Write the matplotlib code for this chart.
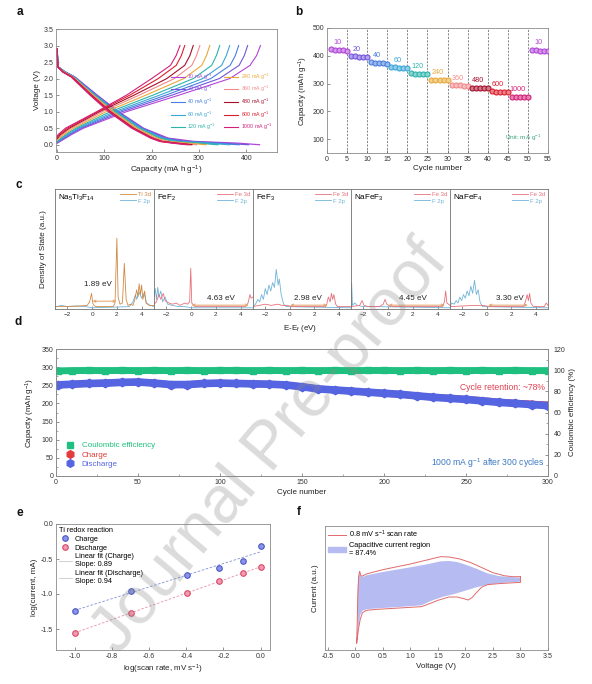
import numpy as np
import matplotlib
matplotlib.use('Agg')
import matplotlib.pyplot as plt
from matplotlib.lines import Line2D
from matplotlib.patches import Patch
from matplotlib.ticker import MultipleLocator

plt.rcParams.update({
    'font.family': ['Liberation Sans', 'DejaVu Sans'],
    'mathtext.fontset': 'custom',
    'mathtext.rm': 'Liberation Sans',
    'mathtext.it': 'Liberation Sans:italic',
    'mathtext.bf': 'Liberation Sans:bold',
    'mathtext.default': 'regular',
    'axes.linewidth': 0.6,
    'axes.edgecolor': '#8a8a8a',
    'xtick.direction': 'in', 'ytick.direction': 'in',
    'xtick.major.size': 2.0, 'ytick.major.size': 2.0,
    'xtick.minor.size': 1.2, 'ytick.minor.size': 1.2,
    'xtick.major.width': 0.5, 'ytick.major.width': 0.5,
    'xtick.minor.width': 0.4, 'ytick.minor.width': 0.4,
    'xtick.color': '#666666', 'ytick.color': '#666666',
    'xtick.labelcolor': '#333333', 'ytick.labelcolor': '#333333',
    'xtick.labelsize': 5, 'ytick.labelsize': 5,
    'axes.labelsize': 5.8, 'axes.labelcolor': '#222222',
    'xtick.major.pad': 2, 'ytick.major.pad': 2,
    'axes.labelpad': 2,
})

# ---------------- data: panel a ----------------
rates = [10, 20, 40, 60, 120, 240, 360, 480, 600, 1000]
rate_colors = ['#b145d8', '#7456dc', '#4a7ee0', '#3ba6d6', '#2cb3ab',
               '#e9a93a', '#f28b8b', '#a8102c', '#dc1f2c', '#d4207a']
charge_v0 = [0.04, 0.06, 0.07, 0.09, 0.11, 0.13, 0.16, 0.18, 0.21, 0.24]
charge_volt = [0.3, 0.5, 1.0, 1.5, 2.0, 2.4, 2.7, 3.0]
charge_cap = [
    [30, 56, 147, 258, 365, 408, 422, 430],
    [27, 52, 138, 243, 343, 385, 396, 403],
    [24, 48, 130, 230, 325, 366, 377, 384],
    [21, 44, 122, 217, 308, 348, 358, 365],
    [18, 40, 113, 203, 288, 327, 337, 344],
    [14, 35, 104, 188, 268, 306, 316, 323],
    [10, 30, 96, 174, 248, 285, 295, 302],
    [7, 26, 90, 163, 232, 270, 281, 288],
    [4, 22, 86, 154, 214, 252, 263, 270],
    [2, 18, 84, 147, 200, 240, 252, 260],
]
discharge_volt = [2.9, 2.35, 2.2, 2.05, 1.5, 1.0, 0.5, 0.2, 0.1, 0.05, 0.0]
discharge_cap = [
    [0, 3, 18, 38, 85, 130, 183, 235, 290, 380, 428],
    [0, 3, 18, 37, 84, 129, 181, 230, 275, 350, 405],
    [0, 3, 17, 36, 82, 127, 179, 226, 265, 330, 385],
    [0, 3, 17, 36, 81, 125, 177, 222, 255, 315, 365],
    [0, 3, 16, 35, 79, 122, 173, 217, 245, 295, 340],
    [0, 2, 15, 34, 77, 119, 169, 211, 235, 275, 315],
    [0, 2, 14, 33, 75, 116, 165, 206, 228, 262, 295],
    [0, 2, 13, 32, 73, 113, 162, 202, 222, 252, 285],
    [0, 2, 13, 31, 72, 111, 160, 200, 220, 248, 280],
    [0, 2, 12, 30, 70, 109, 158, 198, 217, 243, 275],
]

# ---------------- data: panel b ----------------
b_labels = ['10', '20', '40', '60', '120', '240', '360', '480', '600', '1000', '10']
b_colors = ['#b145d8', '#7456dc', '#4a7ee0', '#3ba6d6', '#2cb3ab',
            '#e9a93a', '#f28b8b', '#a8102c', '#dc1f2c', '#d4207a', '#b145d8']
b_caps = [
    [423, 422, 421, 420, 419],
    [399, 398, 397, 396, 395],
    [376, 375, 374, 373, 372],
    [359, 358, 357, 356, 355],
    [337, 336, 335, 334, 333],
    [313, 313, 312, 312, 312],
    [296, 295, 294, 293, 292],
    [285, 284, 284, 283, 283],
    [272, 271, 271, 270, 270],
    [252, 251, 251, 251, 250],
    [421, 420, 419, 419, 418],
]
b_label_y = [447, 423, 400, 383, 362, 338, 320, 311, 296, 280, 447]

# ---------------- data: panel c (DOS) ----------------
c_titles = ['Na$_5$Ti$_3$F$_{14}$', 'FeF$_2$', 'FeF$_3$', 'NaFeF$_3$', 'NaFeF$_4$']
c_metal = ['Ti 3d', 'Fe 3d', 'Fe 3d', 'Fe 3d', 'Fe 3d']
c_gaps = ['1.89 eV', '4.63 eV', '2.98 eV', '4.45 eV', '3.30 eV']
c_gap_from = [0.05, 0.05, 0.05, 0.05, 0.15]
c_gap_to = [1.95, 4.65, 3.05, 4.55, 3.35]
c_gap_y = [0.065, 0.032, 0.032, 0.032, 0.032]
c_text_x = [0.45, 2.4, 1.5, 2.0, 1.9]
c_text_y = [0.2, 0.085, 0.085, 0.085, 0.085]

na5ti3f14_metal = [(-3, 0.02), (-2.5, 0.02), (-1.0, 0.025), (-0.4, 0.03), (-0.2, 0.06), (-0.05, 0.13),
                   (0.05, 0.05), (0.15, 0.03), (0.3, 0.02), (1.7, 0.02), (1.85, 0.05), (2.0, 0.59),
                   (2.1, 0.1), (2.25, 0.04), (2.45, 0.05), (2.6, 0.38), (2.75, 0.08), (2.9, 0.03),
                   (3.1, 0.04), (3.3, 0.03), (3.45, 0.08), (3.6, 0.16), (3.7, 0.1), (3.8, 0.21),
                   (3.9, 0.12), (4.0, 0.2), (4.1, 0.08), (4.25, 0.15), (4.35, 0.05), (4.6, 0.03), (5, 0.03)]
na5ti3f14_f2p = [(-3, 0.015), (-2.5, 0.03), (-2.0, 0.02), (-1.2, 0.025), (-0.5, 0.02), (0, 0.01),
                 (3.0, 0.02), (3.3, 0.06), (3.5, 0.12), (3.6, 0.08), (3.8, 0.14), (4.0, 0.09),
                 (4.2, 0.13), (4.4, 0.05), (4.7, 0.03), (5, 0.02)]
fef2_metal = [(-3, 0.04), (-2.8, 0.06), (-2.6, 0.12), (-2.45, 0.08), (-2.25, 0.13), (-2.1, 0.07),
              (-1.8, 0.05), (-1.5, 0.04), (-1.2, 0.05), (-0.9, 0.03), (-0.5, 0.05), (-0.3, 0.04),
              (-0.12, 0.06), (-0.03, 0.34), (0.05, 0.05), (0.3, 0.02), (4.4, 0.02), (4.6, 0.05),
              (4.75, 0.12), (4.85, 0.09), (5, 0.1)]
fef2_f2p = [(-3, 0.1), (-2.9, 0.17), (-2.8, 0.08), (-2.7, 0.18), (-2.6, 0.1), (-2.45, 0.15),
            (-2.3, 0.06), (-2.1, 0.1), (-1.9, 0.04), (-1.5, 0.03), (-1.0, 0.02), (-0.5, 0.02),
            (0, 0.01), (5, 0.01)]
fef3_metal = [(-3, 0.02), (-2.5, 0.03), (-2, 0.04), (-1.5, 0.03), (-1, 0.04), (-0.6, 0.03),
              (-0.2, 0.03), (0.2, 0.02), (2.9, 0.02), (3.0, 0.03), (3.15, 0.1), (3.3, 0.06),
              (3.4, 0.13), (3.5, 0.08), (3.6, 0.12), (3.75, 0.04), (3.9, 0.02), (5, 0.02)]
fef3_f2p = [(-3, 0.02), (-2.8, 0.04), (-2.6, 0.08), (-2.45, 0.06), (-2.3, 0.12), (-2.15, 0.08),
            (-2.0, 0.17), (-1.85, 0.12), (-1.7, 0.2), (-1.55, 0.15), (-1.4, 0.22), (-1.25, 0.18),
            (-1.1, 0.33), (-0.95, 0.2), (-0.85, 0.25), (-0.7, 0.12), (-0.5, 0.04), (-0.3, 0.02),
            (5, 0.01)]
nafef3_metal = [(-3, 0.02), (-2.3, 0.03), (-2.1, 0.07), (-1.95, 0.03), (-1.6, 0.02), (-0.7, 0.02),
                (-0.4, 0.04), (-0.25, 0.08), (-0.1, 0.04), (0.2, 0.02), (4.4, 0.02), (4.55, 0.06),
                (4.65, 0.15), (4.75, 0.05), (5, 0.03)]
nafef3_f2p = [(-3, 0.02), (-2.95, 0.22), (-2.88, 0.03), (-2.7, 0.05), (-2.5, 0.03), (-2.0, 0.02),
              (-1.0, 0.02), (5, 0.01)]
nafef4_metal = [(-3, 0.02), (-2, 0.025), (-1, 0.03), (-0.3, 0.03), (0.2, 0.02), (3.0, 0.02),
                (3.15, 0.06), (3.3, 0.12), (3.4, 0.07), (3.5, 0.13), (3.6, 0.05), (3.8, 0.02),
                (4.7, 0.02), (4.85, 0.05), (5, 0.03)]
nafef4_f2p = [(-3, 0.02), (-2.85, 0.05), (-2.65, 0.04), (-2.5, 0.07), (-2.35, 0.05), (-2.2, 0.1),
              (-2.05, 0.07), (-1.9, 0.12), (-1.75, 0.09), (-1.6, 0.15), (-1.45, 0.11), (-1.3, 0.19),
              (-1.15, 0.13), (-1.0, 0.24), (-0.85, 0.12), (-0.7, 0.16), (-0.55, 0.06), (-0.35, 0.02),
              (5, 0.01)]
c_metal_dos = [na5ti3f14_metal, fef2_metal, fef3_metal, nafef3_metal, nafef4_metal]
c_f2p_dos = [na5ti3f14_f2p, fef2_f2p, fef3_f2p, nafef3_f2p, nafef4_f2p]

# ---------------- data: panel d ----------------
d_cycles = [1, 10, 20, 30, 40, 50, 60, 70, 80, 90, 100, 110, 120, 130, 140, 150,
            160, 170, 180, 190, 200, 210, 220, 230, 240, 250, 260, 270, 280, 290, 300]
d_discharge = [251, 253, 255, 256, 258, 259, 256, 252, 252, 255, 256, 255, 254, 253, 251, 246,
               240, 237, 234, 231, 228, 225, 221, 217, 214, 211, 207, 203, 200, 197, 194]
d_charge = [251, 253, 255, 256, 258, 259, 256, 252, 252, 255, 256, 255, 254, 253, 251, 246,
            240, 237, 234, 231, 228, 225, 221, 217, 214.5, 211.5, 208, 204, 201, 198.5, 196]
d_ce = [99.3, 99.6, 99.7, 99.6, 99.7, 99.6, 99.7, 99.6, 99.7, 99.6, 99.7, 99.7, 99.6, 99.7, 99.6, 99.7,
        99.6, 99.7, 99.6, 99.7, 99.7, 99.6, 99.7, 99.6, 99.7, 99.6, 99.7, 99.6, 99.7, 99.6, 99.6]

# ---------------- data: panel e ----------------
e_scan_rate = [0.1, 0.2, 0.4, 0.6, 0.8, 1.0]
e_charge = [-1.24, -0.95, -0.735, -0.63, -0.53, -0.32]
e_discharge = [-1.555, -1.27, -0.99, -0.82, -0.70, -0.61]

# ---------------- data: panel f ----------------
f_cv_v = [3.0, 2.85, 2.7, 2.5, 2.3, 2.1, 1.9, 1.7, 1.55, 1.3, 1.0, 0.5, 0.2, 0.12, 0.1, 0.08, 0.06,
          0.045, 0.035, 0.025, 0.04, 0.06, 0.09, 0.13, 0.2, 0.4, 0.8, 1.2, 1.35, 1.5, 1.7, 1.85,
          1.97, 2.05, 2.12, 2.2, 2.3, 2.4, 2.6, 2.8, 3.0, 3.0]
f_cv_i = [0.2, 0.2, 0.23, 0.32, 0.47, 0.62, 0.73, 0.79, 0.80, 0.70, 0.58, 0.41, 0.28, 0.21, 0.24,
          0.36, 0.20, -0.4, -1.2, -1.8, -1.6, -1.35, -1.08, -0.88, -0.81, -0.78, -0.74, -0.70,
          -0.61, -0.51, -0.41, -0.41, -0.46, -0.50, -0.43, -0.28, -0.11, -0.04, -0.01, 0.01, 0.03, 0.2]
f_cap_v = [0.04, 0.045, 0.06, 0.08, 0.12, 0.2, 0.5, 1.0, 1.3, 1.55, 1.7, 1.85, 2.0, 2.2, 2.4, 2.6,
           2.8, 3.0, 3.0, 2.8, 2.6, 2.4, 2.2, 2.0, 1.8, 1.6, 1.4, 1.2, 0.8, 0.4, 0.2, 0.13, 0.09, 0.06]
f_cap_i = [-1.5, -0.1, 0.2, 0.28, 0.18, 0.24, 0.34, 0.48, 0.57, 0.66, 0.67, 0.64, 0.56, 0.44, 0.30,
           0.22, 0.19, 0.17, 0.05, 0.03, 0.0, -0.04, -0.12, -0.22, -0.32, -0.40, -0.51, -0.66,
           -0.71, -0.75, -0.78, -0.82, -0.95, -1.3]

# ======================================================
W, H = 592, 684
fig = plt.figure(figsize=(W / 100, H / 100), dpi=100)


def ax_px(l, t, r, b):
    return fig.add_axes([l / W, 1 - b / H, (r - l) / W, (b - t) / H])


def letter(x, y, s):
    fig.text(x / W, 1 - y / H, s, fontsize=8.5, fontweight='bold', ha='center', va='center', color='#111111')


# ---------------- panel a ----------------
axA = ax_px(56, 29, 277, 152)
for i, r in enumerate(rates):
    axA.plot([0] + charge_cap[i], [charge_v0[i]] + charge_volt, color=rate_colors[i], lw=0.8,
             label=f'{r} mA g$^{{-1}}$')
    axA.plot(discharge_cap[i], discharge_volt, color=rate_colors[i], lw=0.9)
axA.set_xlim(-2, 465)
axA.set_ylim(-0.22, 3.5)
axA.set_xticks([0, 100, 200, 300, 400])
axA.set_yticks(np.arange(0, 3.51, 0.5))
axA.yaxis.set_major_formatter(matplotlib.ticker.FormatStrFormatter('%.1f'))
axA.set_xlabel('Capacity (mA h g$^{-1}$)', labelpad=1.5)
axA.set_ylabel('Voltage (V)', labelpad=2)
axA.legend(ncol=2, fontsize=3.8, frameon=False, loc='lower right', bbox_to_anchor=(1.0, 0.12),
           handlelength=2.6, labelcolor='linecolor', columnspacing=1.6, labelspacing=0.45,
           handletextpad=0.5)
letter(20, 12, 'a')

# ---------------- panel b ----------------
axB = ax_px(327, 28, 548, 153)
for c in range(5, 55, 5):
    axB.axvline(c, color='#555555', ls=(0, (3, 2)), lw=0.5, zorder=1)
cyc = 1
for g, caps in enumerate(b_caps):
    xs = list(range(cyc, cyc + len(caps)))
    col = b_colors[g]
    light = matplotlib.colors.to_rgb(col)
    light = tuple(0.55 * v + 0.45 for v in light)
    axB.plot(xs, caps, 'o', ms=3.6, mfc=light, mec=col, mew=0.8, zorder=3)
    axB.text(np.mean(xs) - 0.5, b_label_y[g], b_labels[g], color=col, fontsize=5.2,
             ha='center', va='center')
    cyc += len(caps)
axB.set_xlim(0, 55)
axB.set_ylim(50, 500)
axB.set_xticks(range(0, 56, 5))
axB.set_yticks([100, 200, 300, 400, 500])
axB.set_xlabel('Cycle number', labelpad=1.5)
axB.set_ylabel('Capacity (mAh g$^{-1}$)', labelpad=2)
axB.text(53.5, 105, 'Unit: mA g$^{-1}$', color='#3aa57a', fontsize=4.6, ha='right', va='center')
letter(299, 12, 'b')

# ---------------- panel c ----------------
col_metal = ['#d08a45', '#e8707a', '#e8707a', '#e8707a', '#e8707a']
col_f = '#70b4d8'
c_left = [55, 154, 253, 351, 450, 548]
for k in range(5):
    ax = ax_px(c_left[k], 189, c_left[k + 1], 309)
    for s in ax.spines.values():
        s.set_color('#707070')
    fE, fD = zip(*c_f2p_dos[k])
    mE, mD = zip(*c_metal_dos[k])
    ax.plot(fE, fD, color=col_f, lw=0.6)
    ax.plot(mE, mD, color=col_metal[k], lw=0.6)
    ax.set_xlim(-3, 5)
    ax.set_ylim(0, 1)
    ax.set_xticks([-2, 0, 2, 4])
    ax.set_yticks([])
    ax.tick_params(axis='x', labelsize=4.6)
    ax.text(0.03, 0.965, c_titles[k], transform=ax.transAxes, fontsize=5.8, va='top', ha='left')
    hs = [Line2D([], [], color=col_metal[k], lw=0.6), Line2D([], [], color=col_f, lw=0.6)]
    ax.legend(hs, [c_metal[k], 'F 2p'], loc='upper right', fontsize=4.3, frameon=False,
              handlelength=2.6, labelcolor=[col_metal[k], col_f], borderaxespad=0.25,
              labelspacing=0.25, handletextpad=0.4, borderpad=0.2)
    ax.annotate('', xy=(c_gap_to[k], c_gap_y[k]), xytext=(c_gap_from[k], c_gap_y[k]),
                arrowprops=dict(arrowstyle='<->', color='#e3a26a', lw=0.7, shrinkA=0, shrinkB=0,
                                mutation_scale=4))
    ax.text(c_text_x[k], c_text_y[k], c_gaps[k], fontsize=5.8, ha='center', va='center', color='#222222')
    if k == 0:
        ax.set_ylabel('Density of State (a.u.)', labelpad=6)
fig.text(300 / W, 1 - 328 / H, 'E-E$_f$ (eV)', fontsize=5.8, ha='center', va='center', color='#222222')
letter(19, 185, 'c')

# ---------------- panel d ----------------
green = '#1fc07f'
red = '#e23b3b'
blue = '#5565e2'
axD = ax_px(56, 349, 548, 476)
axD.plot(d_cycles, d_charge, color=red, lw=4.8, marker='h', ms=5.2, solid_capstyle='butt')
axD.plot(d_cycles, d_discharge, color=blue, lw=5.5, marker='h', ms=6, solid_capstyle='butt')
axD.set_xlim(0, 300)
axD.set_ylim(0, 350)
axD.set_xticks(range(0, 301, 50))
axD.xaxis.set_minor_locator(MultipleLocator(25))
axD.set_yticks(range(0, 351, 50))
axD.yaxis.set_minor_locator(MultipleLocator(25))
axD.set_xlabel('Cycle number', labelpad=2)
axD.set_ylabel('Capacity (mAh g$^{-1}$)', labelpad=3)
axD2 = axD.twinx()
axD2.plot(d_cycles, d_ce, color=green, lw=5, marker='s', ms=5, solid_capstyle='butt')
axD2.set_ylim(0, 120)
axD2.set_yticks(range(0, 121, 20))
axD2.yaxis.set_minor_locator(MultipleLocator(10))
axD2.tick_params(axis='y', pad=4)
axD2.set_ylabel('Coulombic efficiency (%)', labelpad=3)
hd = [Line2D([], [], ls='none', marker='s', color=green, ms=5),
      Line2D([], [], ls='none', marker='h', color=red, ms=5.5),
      Line2D([], [], ls='none', marker='h', color=blue, ms=5.5)]
axD2.legend(hd, ['Coulombic efficiency', 'Charge', 'Discharge'], loc='lower left',
            bbox_to_anchor=(0.0, 0.02), fontsize=5.8, labelcolor=[green, red, blue], frameon=False,
            handletextpad=0.5, labelspacing=0.2, borderaxespad=0.3)
axD2.text(0.993, 0.695, 'Cycle retention: ~78%', transform=axD2.transAxes, color='#e04050',
          fontsize=6.2, ha='right', va='center')
axD2.text(0.993, 0.10, '1000 mA g$^{-1}$ after 300 cycles', transform=axD2.transAxes,
          color='#3b78c2', fontsize=6.2, ha='right', va='center')
letter(18, 322, 'd')

# ---------------- panel e ----------------
axE = ax_px(56, 524, 270, 650)
lx = np.log10(e_scan_rate)
fit_c = np.poly1d(np.polyfit(lx, e_charge, 1))
fit_d = np.poly1d(np.polyfit(lx, e_discharge, 1))
xx = np.array([lx.min(), lx.max()])
lc, = axE.plot(xx, fit_c(xx), ls=(0, (3, 2)), color='#8090d8', lw=0.6)
ld, = axE.plot(xx, fit_d(xx), ls=(0, (3, 2)), color='#e890a8', lw=0.6)
mc, = axE.plot(lx, e_charge, 'o', ms=4, mfc='#8a95e8', mec='#4a58c8', mew=0.8)
md, = axE.plot(lx, e_discharge, 'o', ms=4, mfc='#f29ab0', mec='#d84866', mew=0.8)
axE.set_xlim(-1.1, 0.05)
axE.set_ylim(-1.8, 0.0)
axE.set_xticks([-1.0, -0.8, -0.6, -0.4, -0.2, 0.0])
axE.set_yticks([0.0, -0.5, -1.0, -1.5])
axE.xaxis.set_major_formatter(matplotlib.ticker.FormatStrFormatter('%.1f'))
axE.yaxis.set_major_formatter(matplotlib.ticker.FormatStrFormatter('%.1f'))
axE.set_xlabel('log(scan rate, mV s$^{-1}$)', labelpad=2)
axE.set_ylabel('log(current, mA)', labelpad=2)
lc_h = Line2D([], [], color='#c8c8d0', lw=0.6)
ld_h = Line2D([], [], color='#c8c8d0', lw=0.6)
legE = axE.legend([mc, md, lc_h, ld_h], ['Charge', 'Discharge', 'Linear fit (Charge)\nSlope: 0.89',
                                          'Linear fit (Discharge)\nSlope: 0.94'],
                  title='Ti redox reaction', alignment='left', loc='upper left', fontsize=5.3,
                  title_fontsize=5.3, frameon=False, handlelength=1.8, handletextpad=0.4,
                  labelspacing=0.25, borderaxespad=0.15, borderpad=0.2)
letter(20, 513, 'e')

# ---------------- panel f ----------------
axF = ax_px(325, 526, 548, 650)
axF.fill(f_cap_v, f_cap_i, color='#b6bcf2', lw=0)
cvl, = axF.plot(f_cv_v, f_cv_i, color='#e06a6a', lw=0.7)
axF.set_xlim(-0.55, 3.5)
axF.set_ylim(-2.0, 1.72)
axF.set_xticks(np.arange(-0.5, 3.51, 0.5))
axF.xaxis.set_major_formatter(matplotlib.ticker.FormatStrFormatter('%.1f'))
axF.set_yticks([])
axF.set_xlabel('Voltage (V)', labelpad=2)
axF.set_ylabel('Current (a.u.)', labelpad=4)
axF.legend([cvl, Patch(color='#b6bcf2')], ['0.8 mV s$^{-1}$ scan rate', 'Capacitive current region\n= 87.4%'],
           loc='upper left', fontsize=5.3, frameon=False, handlelength=2.4, handletextpad=0.5,
           labelspacing=0.2, borderaxespad=0.2, borderpad=0.2)
letter(299, 512, 'f')

# watermark
fig.text(0.458, 0.345, 'Journal Pre-proof', rotation=50, fontsize=48, color='#888888', alpha=0.3,
         ha='center', va='center', zorder=10)

fig.savefig('out.png', dpi=100)
